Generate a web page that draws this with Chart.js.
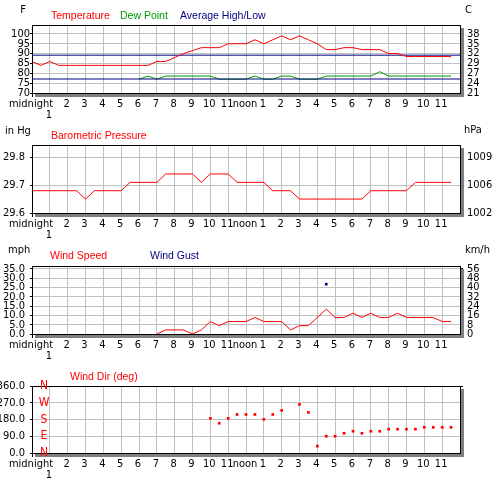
<!DOCTYPE html>
<html><head><meta charset="utf-8">
<script src="https://cdn.jsdelivr.net/npm/chart.js@4/dist/chart.umd.min.js"></script>
<style>
html,body{margin:0;padding:0;background:#fff;}
#wrap{position:relative;width:500px;height:480px;overflow:hidden;background:#fff;}
canvas{position:absolute;left:0;}
</style></head>
<body><div id="wrap">
<canvas id="c1" width="500" height="120" style="top:0px"></canvas>
<canvas id="c2" width="500" height="120" style="top:120px"></canvas>
<canvas id="c3" width="500" height="120" style="top:240px"></canvas>
<canvas id="c4" width="500" height="120" style="top:360px"></canvas>
</div>
<script>
// ---------- data ----------
const times = [0,0.5,1,1.5,2,2.5,3,3.5,4,4.5,5,5.5,6,6.5,7,7.5,8,8.5,9,9.5,10,10.5,11,11.5,
               12,12.5,13,13.5,14,14.5,15,15.5,16,16.5,17,17.5,18,18.5,19,19.5,20,20.5,21,21.5,22,22.5,23,23.5];
const temperature = [86,84,86,84,84,84,84,84,84,84,84,84,84,84,86,86,88,90,91.5,93,93,93,95,95,
                     95,97,95,97,99,97,99,97,95,92,92,93,93,92,92,92,90,90,88.5,88.5,88.5,88.5,88.5,88.5];
const dewPoint = [null,null,null,null,null,null,null,null,null,null,null,null,
                  77,78.6,77,78.6,78.6,78.6,78.6,78.6,78.6,77,77,77,
                  77,78.6,77,77,78.6,78.6,77,77,77,78.6,78.6,78.6,78.6,78.6,78.6,80.8,78.6,78.6,78.6,78.6,78.6,78.6,78.6,78.6];
const avgTimes = [0,24];
const avgHigh = 89.2;
const avgLow = 77.1;
const pressure = [29.68,29.68,29.68,29.68,29.68,29.68,29.65,29.68,29.68,29.68,29.68,29.71,29.71,29.71,29.71,29.74,29.74,29.74,29.74,29.71,29.74,29.74,29.74,29.71,
                  29.71,29.71,29.71,29.68,29.68,29.68,29.65,29.65,29.65,29.65,29.65,29.65,29.65,29.65,29.68,29.68,29.68,29.68,29.68,29.71,29.71,29.71,29.71,29.71];
const windSpeed = [null,null,null,null,null,null,null,null,null,null,null,null,null,null,
                   0,2.2,2.2,2.2,0,2.2,6.7,4.5,6.7,6.7,
                   6.7,8.9,6.7,6.7,6.7,2.2,4.5,4.5,8.9,13.4,8.9,8.9,11.2,8.9,11.2,8.9,8.9,11.2,8.9,8.9,8.9,8.9,6.7,6.7];
const gustTimes = [16.5];
const windGust = [26.8];
const dirTimes = [10,10.5,11,11.5,12,12.5,13,13.5,14,15,15.5,16,16.5,17,17.5,18,18.5,19,19.5,20,20.5,21,21.5,22,22.5,23,23.5];
const windDir = [186,160,186,207,207,207,181,207,229,261,218,37,90,90,106,117,106,117,117,128,128,128,128,138,138,138,138];

const hourTicks = [0,1,2,3,4,5,6,7,8,9,10,11,12,13,14,15,16,17,18,19,20,21,22,23,24];
const hourLabels = ['midnight',['','1'],'2','3','4','5','6','7','8','9','10','11','noon','1','2','3','4','5','6','7','8','9','10','11',''];
const tempTicksF = [70,75,80,85,90,95,100];
const tempTicksC = ['21','24','27','29','32','35','38'];
const pressTicksIn = [29.6,29.7,29.8];
const pressTicksHpa = ['1002','1006','1009'];
const speedTicksMph = [0,5,10,15,20,25,30,35];
const speedTicksKmh = ['0','8','16','24','32','40','48','56'];
const dirTicks = [0,90,180,270,360];
const compassLabels = ['N','E','S','W','N'];

// ---------- styling helpers ----------
const RED = '#ff0000', GREEN = '#009900', NAVY = '#000080', GRID = '#c0c0c0';
const NARROW = "'Liberation Sans Narrow','DejaVu Sans Condensed','Liberation Sans',sans-serif";
const FONT_TICK = {family: NARROW, size: 11, lineHeight: 1};
const UNIT_FONT = "11px " + NARROW;
const TITLE_FONT = "10.5px 'Liberation Sans', Arial, sans-serif";

function xScale(h) {
  return {
    type: 'linear', min: 0, max: 24,
    afterBuildTicks: s => { s.ticks = hourTicks.map(v => ({value: v})); },
    afterFit: s => { s.height = h; },
    ticks: {autoSkip: false, maxRotation: 0, minRotation: 0, padding: 2, labelOffset: -1, color: '#000', font: FONT_TICK,
            callback: (v, i) => hourLabels[i]},
    grid: {color: GRID, tickColor: '#000', tickLength: 4, lineWidth: 1},
    border: {display: false}
  };
}
function yLeft(min, max, ticks, fmt, pad) {
  return {
    type: 'linear', position: 'left', min: min, max: max,
    afterBuildTicks: s => { s.ticks = ticks.map(v => ({value: v})); },
    afterFit: s => { s.width = 32; },
    ticks: {autoSkip: false, padding: pad, color: '#000', font: FONT_TICK, callback: v => fmt(v)},
    grid: {color: GRID, tickColor: '#000', tickLength: 2},
    border: {display: false}
  };
}
function yRight(min, max, ticks, labels) {
  return {
    type: 'linear', position: 'right', min: min, max: max,
    afterBuildTicks: s => { s.ticks = ticks.map(v => ({value: v})); },
    afterFit: s => { s.width = 40; },
    ticks: {autoSkip: false, padding: 4, color: '#000', font: FONT_TICK, callback: (v, i) => labels ? labels[i] : ''},
    grid: {drawOnChartArea: false, tickColor: '#000', tickLength: 3},
    border: {display: false}
  };
}
function framePlugin(texts, extra) {
  return {
    id: 'frame',
    beforeDatasetsDraw(chart) {
      const {ctx, chartArea: a} = chart;
      ctx.save();
      ctx.fillStyle = '#808080';
      ctx.fillRect(Math.round(a.right) + 1, Math.round(a.top) + 3, 3, Math.round(a.bottom - a.top) + 1);
      ctx.fillRect(Math.round(a.left) + 3, Math.round(a.bottom) + 1, Math.round(a.right - a.left) + 1, 3);
      ctx.restore();
    },
    afterDatasetsDraw(chart) {
      const {ctx, chartArea: a} = chart;
      ctx.save();
      ctx.strokeStyle = '#000'; ctx.lineWidth = 1;
      ctx.strokeRect(Math.round(a.left) + 0.5, Math.round(a.top) + 0.5, Math.round(a.right - a.left), Math.round(a.bottom - a.top));
      ctx.restore();
      if (extra) extra(chart);
    },
    afterDraw(chart) {
      const ctx = chart.ctx;
      ctx.save();
      ctx.textBaseline = 'middle';
      texts.forEach(t => {
        ctx.font = t.f; ctx.fillStyle = t.c; ctx.textAlign = t.a || 'left';
        ctx.fillText(t.t, t.x, t.y);
      });
      ctx.restore();
    }
  };
}
function pts(xs, ys) { return xs.map((x, i) => ({x: x, y: ys[i]})); }
function baseOpts(top, scales) {
  return {
    responsive: false, animation: false, devicePixelRatio: 1,
    layout: {padding: {top: top, left: 0, right: 0, bottom: 0}},
    plugins: {legend: {display: false}, tooltip: {enabled: false}},
    elements: {line: {borderWidth: 1, tension: 0}, point: {radius: 0}},
    scales: scales
  };
}

// ---------- Panel 1: temperature ----------
new Chart(document.getElementById('c1'), {
  type: 'line',
  data: {datasets: [
    {label: 'Temperature', data: pts(times, temperature), borderColor: RED, order: 0},
    {label: 'Average High', data: pts(avgTimes, avgTimes.map(() => avgHigh)), borderColor: NAVY, order: 1},
    {label: 'Average Low', data: pts(avgTimes, avgTimes.map(() => avgLow)), borderColor: NAVY, order: 2},
    {label: 'Dew Point', data: pts(times, dewPoint), borderColor: GREEN, order: 3}
  ]},
  options: baseOpts(25, {
    x: xScale(27),
    y: yLeft(70, 104.5, tempTicksF, v => String(v), 0),
    y2: yRight(70, 104.5, tempTicksF, tempTicksC)
  }),
  plugins: [framePlugin([
    {t: 'F', x: 23, y: 10, c: '#000', f: UNIT_FONT, a: 'center'},
    {t: 'C', x: 465, y: 10, c: '#000', f: UNIT_FONT},
    {t: 'Temperature', x: 51, y: 16, c: RED, f: TITLE_FONT},
    {t: 'Dew Point', x: 120, y: 16, c: GREEN, f: TITLE_FONT},
    {t: 'Average High/Low', x: 180, y: 16, c: NAVY, f: TITLE_FONT}
  ])]
});

// ---------- Panel 2: pressure ----------
new Chart(document.getElementById('c2'), {
  type: 'line',
  data: {datasets: [
    {label: 'Barometric Pressure', data: pts(times, pressure), borderColor: RED}
  ]},
  options: baseOpts(25, {
    x: xScale(27),
    y: yLeft(29.6, 29.844, pressTicksIn, v => v.toFixed(1), 5),
    y2: yRight(29.6, 29.844, pressTicksIn, pressTicksHpa)
  }),
  plugins: [framePlugin([
    {t: 'in Hg', x: 5, y: 11, c: '#000', f: UNIT_FONT},
    {t: 'hPa', x: 464, y: 10, c: '#000', f: UNIT_FONT},
    {t: 'Barometric Pressure', x: 51, y: 16, c: RED, f: TITLE_FONT}
  ])]
});

// ---------- Panel 3: wind speed ----------
new Chart(document.getElementById('c3'), {
  type: 'line',
  data: {datasets: [
    {label: 'Wind Gust', data: pts(gustTimes, windGust), showLine: false, pointStyle: 'rect',
     pointRadius: 1.9, pointBorderWidth: 0, pointBackgroundColor: NAVY, borderColor: NAVY},
    {label: 'Wind Speed', data: pts(times, windSpeed), borderColor: RED}
  ]},
  options: baseOpts(26, {
    x: xScale(26),
    y: yLeft(0, 36.6, speedTicksMph, v => v.toFixed(1), 5),
    y2: yRight(0, 36.6, speedTicksMph, speedTicksKmh)
  }),
  plugins: [framePlugin([
    {t: 'mph', x: 8, y: 10, c: '#000', f: UNIT_FONT},
    {t: 'km/h', x: 465, y: 10, c: '#000', f: UNIT_FONT},
    {t: 'Wind Speed', x: 50, y: 16, c: RED, f: TITLE_FONT},
    {t: 'Wind Gust', x: 150, y: 16, c: NAVY, f: TITLE_FONT}
  ])]
});

// ---------- Panel 4: wind direction ----------
new Chart(document.getElementById('c4'), {
  type: 'line',
  data: {datasets: [
    {label: 'Wind Dir (deg)', data: pts(dirTimes, windDir), showLine: false, pointStyle: 'rect',
     pointRadius: 1.9, pointBorderWidth: 0, pointBackgroundColor: RED, borderColor: RED}
  ]},
  options: baseOpts(26, {
    x: xScale(27),
    y: yLeft(0, 360, dirTicks, v => v.toFixed(1), 5),
    y2: yRight(0, 360, dirTicks, null)
  }),
  plugins: [framePlugin([
    {t: 'Wind Dir (deg)', x: 70, y: 17, c: RED, f: TITLE_FONT}
  ], chart => {
    const ctx = chart.ctx, ys = chart.scales.y;
    ctx.save();
    ctx.font = "12px " + NARROW; ctx.fillStyle = RED;
    ctx.textAlign = 'center'; ctx.textBaseline = 'middle';
    dirTicks.forEach((v, i) => ctx.fillText(compassLabels[i], 44, ys.getPixelForValue(v)));
    ctx.restore();
  })]
});
</script>
</body></html>
